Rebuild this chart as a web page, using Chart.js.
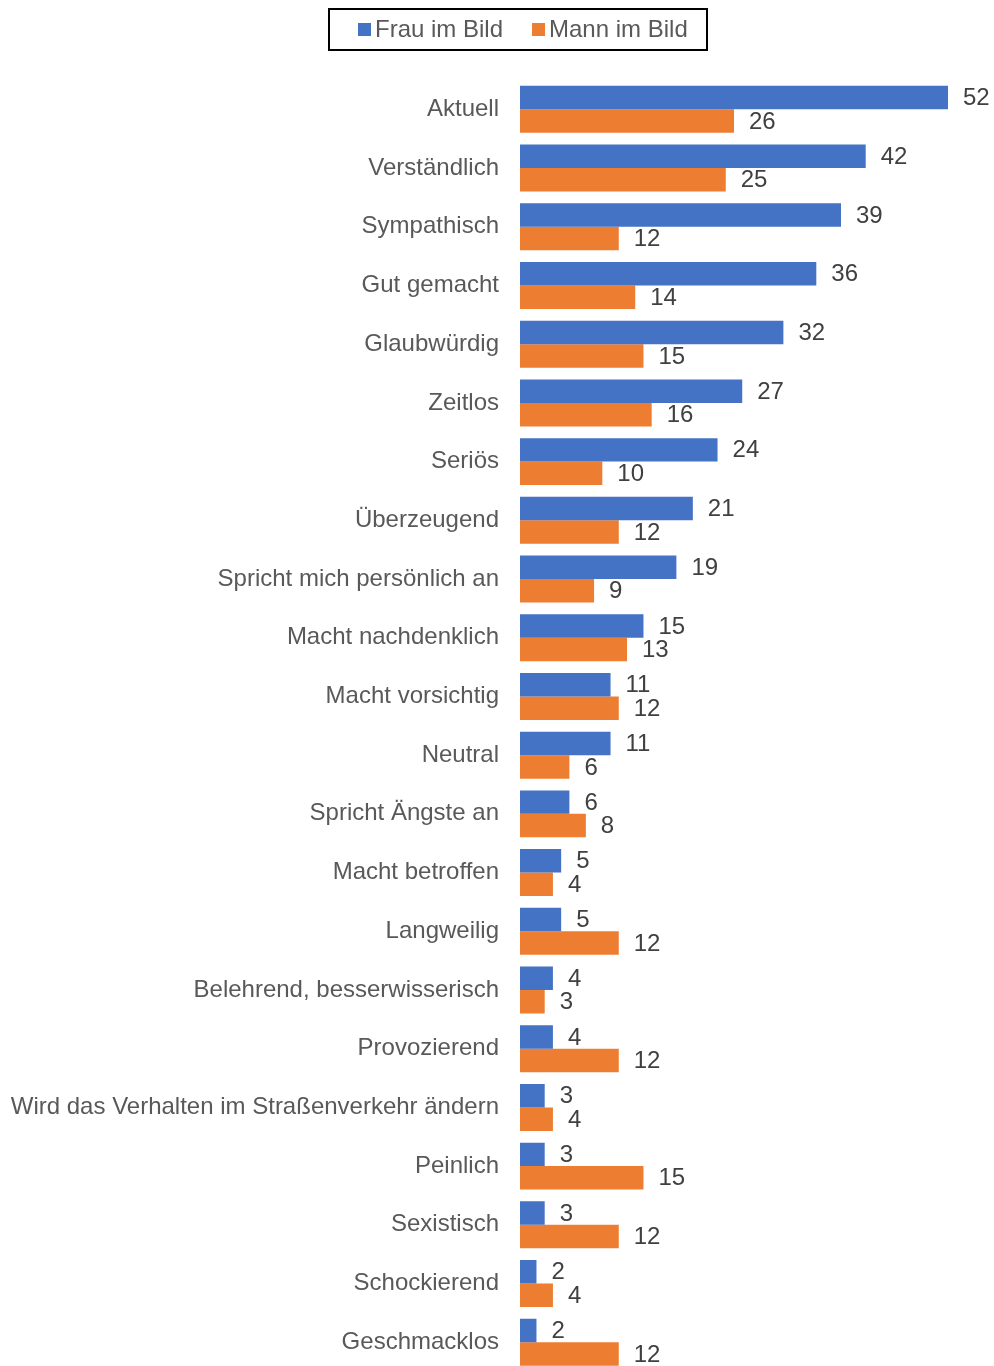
<!DOCTYPE html>
<html>
<head>
<meta charset="utf-8">
<script src="https://cdn.jsdelivr.net/npm/chart.js@4/dist/chart.umd.min.js"></script>
<style>
  html, body { margin: 0; padding: 0; overflow: hidden; background: #fff; }
  canvas { display: block; }
</style>
</head>
<body>
<canvas id="bildChart" width="994" height="1407"></canvas>
<script>
// Daten
const kategorien = [
    'Aktuell', 'Verständlich', 'Sympathisch', 'Gut gemacht', 'Glaubwürdig', 'Zeitlos',
    'Seriös', 'Überzeugend', 'Spricht mich persönlich an', 'Macht nachdenklich',
    'Macht vorsichtig', 'Neutral', 'Spricht Ängste an', 'Macht betroffen', 'Langweilig',
    'Belehrend, besserwisserisch', 'Provozierend', 'Wird das Verhalten im Straßenverkehr ändern',
    'Peinlich', 'Sexistisch', 'Schockierend', 'Geschmacklos'
];
const frauImBild = [52, 42, 39, 36, 32, 27, 24, 21, 19, 15, 11, 11, 6, 5, 5, 4, 4, 3, 3, 3, 2, 2];
const mannImBild = [26, 25, 12, 14, 15, 16, 10, 12, 9, 13, 12, 6, 8, 4, 12, 3, 12, 4, 15, 12, 4, 12];

const FONT = '"Liberation Sans", Arial, sans-serif';

// Werte rechts neben den Balken
const wertePlugin = {
    id: 'werte',
    afterDatasetsDraw(chart) {
        const ctx = chart.ctx;
        ctx.save();
        ctx.font = '24px ' + FONT;
        ctx.fillStyle = '#404040';
        ctx.textAlign = 'left';
        ctx.textBaseline = 'middle';
        chart.data.datasets.forEach((ds, i) => {
            chart.getDatasetMeta(i).data.forEach((bar, j) => {
                ctx.fillText(ds.data[j], bar.x + 15, bar.y + 1);
            });
        });
        ctx.restore();
    }
};

// Legende mit Rahmen oben
const legendePlugin = {
    id: 'legende',
    afterDraw(chart) {
        const ctx = chart.ctx;
        ctx.save();
        ctx.strokeStyle = '#000';
        ctx.lineWidth = 2;
        ctx.strokeRect(329, 9, 378, 41);
        ctx.font = '24px ' + FONT;
        ctx.textBaseline = 'middle';
        ctx.textAlign = 'left';
        let x = 358;
        chart.data.datasets.forEach(ds => {
            ctx.fillStyle = ds.backgroundColor;
            ctx.fillRect(x, 23, 13, 13);
            ctx.fillStyle = '#595959';
            ctx.fillText(ds.label, x + 17, 30);
            x += 17 + ctx.measureText(ds.label).width + 29;
        });
        ctx.restore();
    }
};

const ctx = document.getElementById('bildChart').getContext('2d');

const bildChart = new Chart(ctx, {
    type: 'bar',
    data: {
        labels: kategorien,
        datasets: [{
            label: 'Frau im Bild',
            data: frauImBild,
            backgroundColor: '#4472C4',
            categoryPercentage: 0.8,
            barPercentage: 1.0
        }, {
            label: 'Mann im Bild',
            data: mannImBild,
            backgroundColor: '#ED7D31',
            categoryPercentage: 0.8,
            barPercentage: 1.0
        }]
    },
    options: {
        indexAxis: 'y',
        responsive: false,
        animation: false,
        layout: { padding: { top: 80, right: 46, bottom: 0, left: 0 } },
        plugins: {
            legend: { display: false },
            tooltip: { enabled: false }
        },
        scales: {
            x: {
                display: false,
                min: 0,
                max: 52
            },
            y: {
                grid: { display: false, drawTicks: false },
                border: { display: false },
                ticks: {
                    color: '#595959',
                    font: { size: 24, family: FONT },
                    padding: 21,
                    autoSkip: false
                },
                afterFit(scale) { scale.width = 520; }
            }
        }
    },
    plugins: [wertePlugin, legendePlugin]
});
</script>
</body>
</html>
